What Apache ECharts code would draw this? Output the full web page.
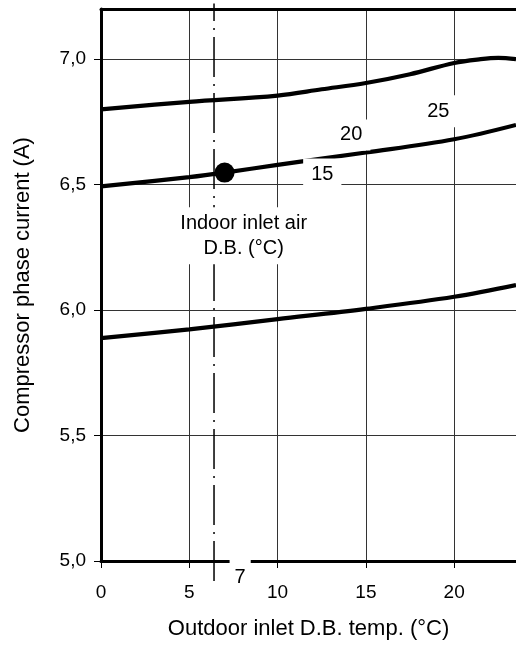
<!DOCTYPE html>
<html><head><meta charset="utf-8">
<script src="https://cdn.jsdelivr.net/npm/echarts@6/dist/echarts.min.js"></script>
<style>html,body{margin:0;padding:0;background:#fff}#c{width:516px;height:645px}</style>
</head><body><div id="c"></div>
<script>
// Outdoor inlet D.B. temperature (°C) vs compressor phase current (A)
const curve25X = [0, 5, 10, 12.5, 15, 17.5, 20, 21.5, 22.5, 23.5];
const curve25Y = [6.80, 6.83, 6.855, 6.88, 6.905, 6.94, 6.985, 7.0, 7.005, 7.0];
const curve20X = [0, 5, 7, 10, 15, 20, 23.5];
const curve20Y = [6.493, 6.53, 6.548, 6.579, 6.628, 6.681, 6.738];
const curve15X = [0, 5, 10, 15, 20, 23.5];
const curve15Y = [5.888, 5.923, 5.964, 6.005, 6.053, 6.10];
const pointX = [7];
const pointY = [6.548];
const refLineX = [6.4, 6.4];
const refLineY = [4.92, 7.222];
const annotText = ['25', '20', '15', '7', 'Indoor inlet air\nD.B. (°C)'];
const annotX = [19.1, 14.17, 12.53, 7.88, 8.08];
const annotY = [6.792, 6.698, 6.54, 4.936, 6.296];
const xTicks = [0, 5, 10, 15, 20];
const yTicks = [5.0, 5.5, 6.0, 6.5, 7.0];

// label box paddings (style only)
const annotPadding = [[4, 8, 3, 8], [3, 8, 3, 8], [4, 8, 3, 8], [7, 5, 3, 5], [4, 6, 3, 6]];

const zip = (xs, ys) => xs.map((x, i) => [x, ys[i]]);
const FONT = '"Liberation Sans", Arial, sans-serif';
const curveStyle = {type: 'line', smooth: 0.35, symbol: 'none', lineStyle: {color: '#000', width: 4.2}, z: 3};

const chart = echarts.init(document.getElementById('c'), null, {renderer: 'canvas'});
chart.setOption({
  animation: false,
  backgroundColor: '#fff',
  textStyle: {fontFamily: FONT},
  grid: {left: 101, top: 9, right: 0, bottom: 82, containLabel: false},
  xAxis: [{
    type: 'value', min: 0, max: 23.5, interval: 5, position: 'bottom',
    name: 'Outdoor inlet D.B. temp. (°C)', nameLocation: 'middle', nameGap: 57,
    nameTextStyle: {fontSize: 22, color: '#000', fontFamily: FONT},
    axisLine: {show: true, onZero: false, lineStyle: {color: '#000', width: 3}},
    axisTick: {show: true, length: 7, lineStyle: {color: '#000', width: 1}, customValues: xTicks},
    axisLabel: {fontSize: 19, color: '#000', margin: 22, fontFamily: FONT, customValues: xTicks,
      formatter: v => String(v)},
    splitLine: {show: true, lineStyle: {color: '#333', width: 1}}
  }, {
    type: 'value', min: 0, max: 23.5, position: 'top',
    axisLine: {show: true, onZero: false, lineStyle: {color: '#000', width: 3}},
    axisTick: {show: false}, axisLabel: {show: false}, splitLine: {show: false}
  }],
  yAxis: {
    type: 'value', min: 5, max: 7.2, interval: 0.5,
    name: 'Compressor phase current (A)', nameLocation: 'middle', nameGap: 67,
    nameTextStyle: {fontSize: 22, color: '#000', fontFamily: FONT},
    axisLine: {show: true, onZero: false, lineStyle: {color: '#000', width: 3}},
    axisTick: {show: true, length: 7, lineStyle: {color: '#000', width: 1}, customValues: yTicks},
    axisLabel: {fontSize: 19, color: '#000', margin: 15, fontFamily: FONT, customValues: yTicks,
      formatter: v => v.toFixed(1).replace('.', ',')},
    splitLine: {show: true, lineStyle: {color: '#333', width: 1}}
  },
  series: [
    Object.assign({name: '25', data: zip(curve25X, curve25Y)}, curveStyle),
    Object.assign({name: '20', data: zip(curve20X, curve20Y)}, curveStyle),
    Object.assign({name: '15', data: zip(curve15X, curve15Y)}, curveStyle),
    {
      name: 'ref', type: 'line', data: zip(refLineX, refLineY), symbol: 'none', clip: false,
      lineStyle: {color: '#000', width: 1.5, type: [40, 7, 2, 7]}, z: 2
    },
    {
      name: 'annot', type: 'scatter', clip: false, symbolSize: 1, z: 5,
      itemStyle: {color: 'rgba(0,0,0,0)', opacity: 1},
      emphasis: {disabled: true},
      data: annotText.map((t, i) => ({name: t, value: [annotX[i], annotY[i]],
        label: {padding: annotPadding[i]}})),
      label: {
        show: true, position: 'inside', formatter: p => p.name,
        fontSize: 20, color: '#000', fontFamily: FONT, lineHeight: 25, opacity: 1,
        backgroundColor: '#fff'
      }
    },
    {
      name: 'point', type: 'scatter', data: zip(pointX, pointY), symbol: 'circle', symbolSize: 20,
      itemStyle: {color: '#000', opacity: 1}, emphasis: {disabled: true}, z: 6
    }
  ]
});
</script></body></html>
